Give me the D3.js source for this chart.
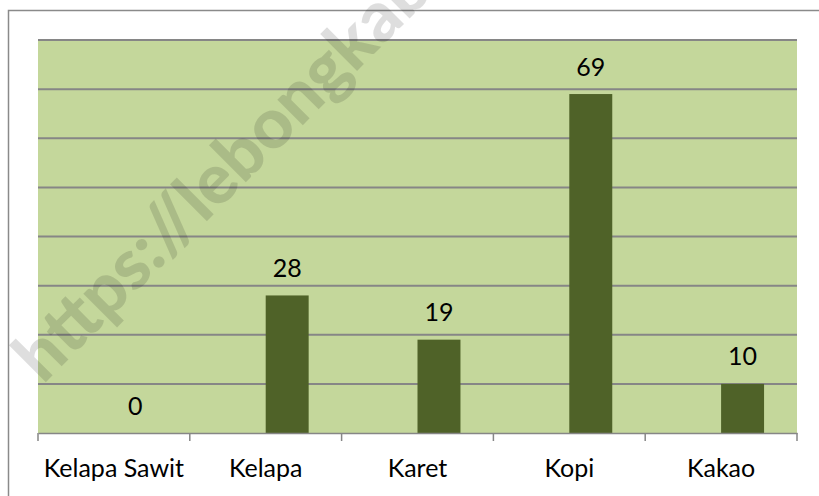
<!DOCTYPE html>
<html>
<head>
<meta charset="utf-8">
<script src="https://cdn.jsdelivr.net/npm/d3@7"></script>
<style>
  html, body { margin: 0; padding: 0; background: #fff; }
  svg { display: block; }
  text { font-family: Lato, "Open Sans", sans-serif; }
</style>
</head>
<body>
<script>
const categories = ["Kelapa Sawit", "Kelapa", "Karet", "Kopi", "Kakao"];
const values = [0, 28, 19, 69, 10];
const yTicks = [0, 10, 20, 30, 40, 50, 60, 70, 80];
const watermarkText = "https://lebongkab";

const W = 819, H = 496;
const plot = { left: 38, right: 797, top: 40, bottom: 433 };

const svg = d3.select("body").append("svg").attr("width", W).attr("height", H);

// outer chart border (extends beyond the visible crop)
svg.append("rect")
  .attr("x", 8.5).attr("y", 10.5)
  .attr("width", 1000).attr("height", 1000)
  .attr("fill", "#fff")
  .attr("stroke", "#8a8a8a").attr("stroke-width", 1.5);

const x = d3.scaleBand().domain(categories).range([plot.left, plot.right]).padding(0);
const y = d3.scaleLinear().domain([0, 80]).range([plot.bottom, plot.top]);

// plot background
svg.append("rect")
  .attr("x", plot.left).attr("y", plot.top)
  .attr("width", plot.right - plot.left).attr("height", plot.bottom - plot.top)
  .attr("fill", "#c4d79b");

// gridlines
svg.append("g")
  .selectAll("line")
  .data(yTicks.filter(d => d > 0))
  .join("line")
  .attr("x1", plot.left).attr("x2", plot.right)
  .attr("y1", d => y(d)).attr("y2", d => y(d))
  .attr("stroke", "#868686").attr("stroke-width", 2);

// bars (start at category centre, second slot of a 2-slot cluster)
const barW = x.bandwidth() * 0.283;
svg.append("g")
  .selectAll("rect")
  .data(values)
  .join("rect")
  .attr("x", (d, i) => x(categories[i]) + x.bandwidth() / 2)
  .attr("y", d => y(d))
  .attr("width", barW)
  .attr("height", d => y(0) - y(d))
  .attr("fill", "#4f6228");

// value labels
svg.append("g")
  .selectAll("text")
  .data(values)
  .join("text")
  .attr("x", (d, i) => x(categories[i]) + x.bandwidth() / 2 + barW / 2)
  .attr("y", d => y(d) - 18.5)
  .attr("text-anchor", "middle")
  .attr("font-size", 25)
  .attr("fill", "#000")
  .text(d => d);

// x axis
const xAxis = d3.axisBottom(x).tickSize(0).tickFormat("");
const gx = svg.append("g").attr("transform", `translate(0,${plot.bottom})`).call(xAxis);
gx.select(".domain").attr("stroke", "#868686").attr("stroke-width", 1.5);
const bounds = categories.map(c => x(c)).concat([plot.right]);
svg.append("g")
  .selectAll("line")
  .data(bounds)
  .join("line")
  .attr("x1", d => d).attr("x2", d => d)
  .attr("y1", plot.bottom).attr("y2", plot.bottom + 8)
  .attr("stroke", "#868686").attr("stroke-width", 1.5);

// category labels
svg.append("g")
  .selectAll("text")
  .data(categories)
  .join("text")
  .attr("x", d => x(d) + x.bandwidth() / 2)
  .attr("y", 477)
  .attr("text-anchor", "middle")
  .attr("font-size", 25)
  .attr("fill", "#000")
  .text(d => d);

// watermark
svg.append("text")
  .attr("transform", "translate(43,385) rotate(-45)")
  .attr("font-size", 70)
  .attr("font-weight", 900)
  .attr("fill", "#000")
  .attr("fill-opacity", 0.13)
  .text(watermarkText);
</script>
</body>
</html>
